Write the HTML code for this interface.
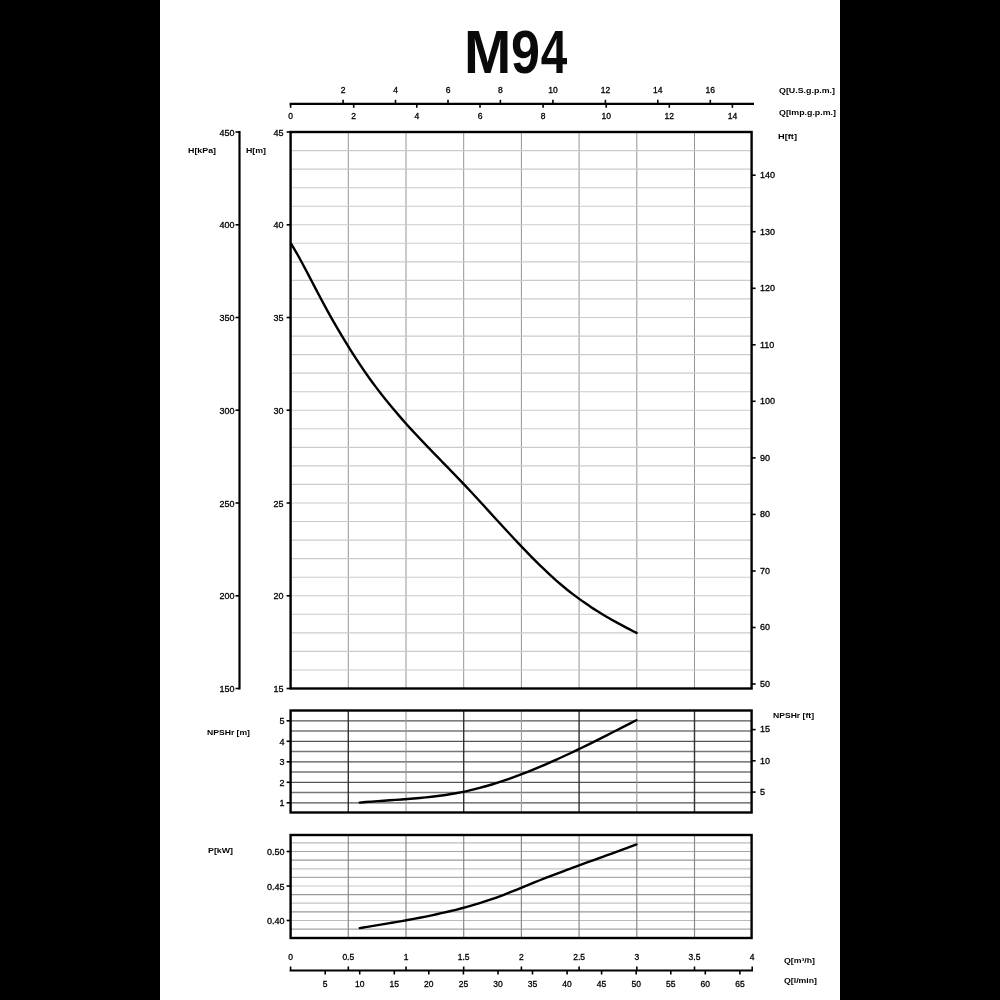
<!DOCTYPE html>
<html><head><meta charset="utf-8"><style>
html,body{margin:0;padding:0;background:#fff;}
body{width:1000px;height:1000px;position:relative;overflow:hidden;font-family:"Liberation Sans", sans-serif;}
.bar{position:absolute;top:0;width:160px;height:1000px;background:#000;}
svg{position:absolute;left:0;top:0;filter:blur(0.4px);}
</style></head><body>
<div class="bar" style="left:0"></div>
<div class="bar" style="left:840px"></div>
<svg width="1000" height="1000" viewBox="0 0 1000 1000" font-family='"Liberation Sans", sans-serif'>
<text x="0" y="0" font-size="62" font-weight="bold" fill="#0a0a0a" transform="translate(464.0,73.4) scale(0.915,1)">M</text>
<text x="0" y="0" font-size="62" font-weight="bold" fill="#0a0a0a" transform="translate(510.9,73.4) scale(0.8415,1)">9</text>
<text x="0" y="0" font-size="62" font-weight="bold" fill="#0a0a0a" transform="translate(540.7,73.4) scale(0.769,1)">4</text>
<line x1="289.6" y1="103.8" x2="754.0" y2="103.8" stroke="#000" stroke-width="2.2" />
<line x1="343.1" y1="99.8" x2="343.1" y2="103.8" stroke="#000" stroke-width="1.6" />
<text x="343.1" y="93.3" font-size="8.5" text-anchor="middle" font-weight="normal" fill="#000" stroke="#000" stroke-width="0.3" >2</text>
<line x1="395.5" y1="99.8" x2="395.5" y2="103.8" stroke="#000" stroke-width="1.6" />
<text x="395.5" y="93.3" font-size="8.5" text-anchor="middle" font-weight="normal" fill="#000" stroke="#000" stroke-width="0.3" >4</text>
<line x1="448.0" y1="99.8" x2="448.0" y2="103.8" stroke="#000" stroke-width="1.6" />
<text x="448.0" y="93.3" font-size="8.5" text-anchor="middle" font-weight="normal" fill="#000" stroke="#000" stroke-width="0.3" >6</text>
<line x1="500.4" y1="99.8" x2="500.4" y2="103.8" stroke="#000" stroke-width="1.6" />
<text x="500.4" y="93.3" font-size="8.5" text-anchor="middle" font-weight="normal" fill="#000" stroke="#000" stroke-width="0.3" >8</text>
<line x1="552.9" y1="99.8" x2="552.9" y2="103.8" stroke="#000" stroke-width="1.6" />
<text x="552.9" y="93.3" font-size="8.5" text-anchor="middle" font-weight="normal" fill="#000" stroke="#000" stroke-width="0.3" >10</text>
<line x1="605.4" y1="99.8" x2="605.4" y2="103.8" stroke="#000" stroke-width="1.6" />
<text x="605.4" y="93.3" font-size="8.5" text-anchor="middle" font-weight="normal" fill="#000" stroke="#000" stroke-width="0.3" >12</text>
<line x1="657.8" y1="99.8" x2="657.8" y2="103.8" stroke="#000" stroke-width="1.6" />
<text x="657.8" y="93.3" font-size="8.5" text-anchor="middle" font-weight="normal" fill="#000" stroke="#000" stroke-width="0.3" >14</text>
<line x1="710.3" y1="99.8" x2="710.3" y2="103.8" stroke="#000" stroke-width="1.6" />
<text x="710.3" y="93.3" font-size="8.5" text-anchor="middle" font-weight="normal" fill="#000" stroke="#000" stroke-width="0.3" >16</text>
<line x1="290.6" y1="103.8" x2="290.6" y2="107.8" stroke="#000" stroke-width="1.6" />
<text x="290.6" y="118.7" font-size="8.5" text-anchor="middle" font-weight="normal" fill="#000" stroke="#000" stroke-width="0.3" >0</text>
<line x1="353.7" y1="103.8" x2="353.7" y2="107.8" stroke="#000" stroke-width="1.6" />
<text x="353.7" y="118.7" font-size="8.5" text-anchor="middle" font-weight="normal" fill="#000" stroke="#000" stroke-width="0.3" >2</text>
<line x1="416.8" y1="103.8" x2="416.8" y2="107.8" stroke="#000" stroke-width="1.6" />
<text x="416.8" y="118.7" font-size="8.5" text-anchor="middle" font-weight="normal" fill="#000" stroke="#000" stroke-width="0.3" >4</text>
<line x1="480.0" y1="103.8" x2="480.0" y2="107.8" stroke="#000" stroke-width="1.6" />
<text x="480.0" y="118.7" font-size="8.5" text-anchor="middle" font-weight="normal" fill="#000" stroke="#000" stroke-width="0.3" >6</text>
<line x1="543.1" y1="103.8" x2="543.1" y2="107.8" stroke="#000" stroke-width="1.6" />
<text x="543.1" y="118.7" font-size="8.5" text-anchor="middle" font-weight="normal" fill="#000" stroke="#000" stroke-width="0.3" >8</text>
<line x1="606.2" y1="103.8" x2="606.2" y2="107.8" stroke="#000" stroke-width="1.6" />
<text x="606.2" y="118.7" font-size="8.5" text-anchor="middle" font-weight="normal" fill="#000" stroke="#000" stroke-width="0.3" >10</text>
<line x1="669.3" y1="103.8" x2="669.3" y2="107.8" stroke="#000" stroke-width="1.6" />
<text x="669.3" y="118.7" font-size="8.5" text-anchor="middle" font-weight="normal" fill="#000" stroke="#000" stroke-width="0.3" >12</text>
<line x1="732.4" y1="103.8" x2="732.4" y2="107.8" stroke="#000" stroke-width="1.6" />
<text x="732.4" y="118.7" font-size="8.5" text-anchor="middle" font-weight="normal" fill="#000" stroke="#000" stroke-width="0.3" >14</text>
<text x="779.0" y="93.0" font-size="7.5" text-anchor="start" font-weight="bold" fill="#000" textLength="56" lengthAdjust="spacingAndGlyphs">Q[U.S.g.p.m.]</text>
<text x="779.0" y="114.6" font-size="7.5" text-anchor="start" font-weight="bold" fill="#000" textLength="57" lengthAdjust="spacingAndGlyphs">Q[Imp.g.p.m.]</text>
<text x="778.0" y="138.7" font-size="7.5" text-anchor="start" font-weight="bold" fill="#000" textLength="19" lengthAdjust="spacingAndGlyphs">H[ft]</text>
<line x1="348.3" y1="132.0" x2="348.3" y2="688.5" stroke="#949494" stroke-width="1.0" />
<line x1="406.0" y1="132.0" x2="406.0" y2="688.5" stroke="#949494" stroke-width="1.0" />
<line x1="463.7" y1="132.0" x2="463.7" y2="688.5" stroke="#949494" stroke-width="1.0" />
<line x1="521.4" y1="132.0" x2="521.4" y2="688.5" stroke="#949494" stroke-width="1.0" />
<line x1="579.1" y1="132.0" x2="579.1" y2="688.5" stroke="#949494" stroke-width="1.0" />
<line x1="636.8" y1="132.0" x2="636.8" y2="688.5" stroke="#949494" stroke-width="1.0" />
<line x1="694.5" y1="132.0" x2="694.5" y2="688.5" stroke="#949494" stroke-width="1.0" />
<line x1="290.6" y1="670.0" x2="751.6" y2="670.0" stroke="#cbcbcb" stroke-width="1.1" />
<line x1="290.6" y1="651.4" x2="751.6" y2="651.4" stroke="#cbcbcb" stroke-width="1.1" />
<line x1="290.6" y1="632.9" x2="751.6" y2="632.9" stroke="#cbcbcb" stroke-width="1.1" />
<line x1="290.6" y1="614.3" x2="751.6" y2="614.3" stroke="#cbcbcb" stroke-width="1.1" />
<line x1="290.6" y1="595.8" x2="751.6" y2="595.8" stroke="#cbcbcb" stroke-width="1.1" />
<line x1="290.6" y1="577.2" x2="751.6" y2="577.2" stroke="#cbcbcb" stroke-width="1.1" />
<line x1="290.6" y1="558.6" x2="751.6" y2="558.6" stroke="#cbcbcb" stroke-width="1.1" />
<line x1="290.6" y1="540.1" x2="751.6" y2="540.1" stroke="#cbcbcb" stroke-width="1.1" />
<line x1="290.6" y1="521.5" x2="751.6" y2="521.5" stroke="#cbcbcb" stroke-width="1.1" />
<line x1="290.6" y1="503.0" x2="751.6" y2="503.0" stroke="#cbcbcb" stroke-width="1.1" />
<line x1="290.6" y1="484.4" x2="751.6" y2="484.4" stroke="#cbcbcb" stroke-width="1.1" />
<line x1="290.6" y1="465.9" x2="751.6" y2="465.9" stroke="#cbcbcb" stroke-width="1.1" />
<line x1="290.6" y1="447.4" x2="751.6" y2="447.4" stroke="#cbcbcb" stroke-width="1.1" />
<line x1="290.6" y1="428.8" x2="751.6" y2="428.8" stroke="#cbcbcb" stroke-width="1.1" />
<line x1="290.6" y1="410.2" x2="751.6" y2="410.2" stroke="#cbcbcb" stroke-width="1.1" />
<line x1="290.6" y1="391.7" x2="751.6" y2="391.7" stroke="#cbcbcb" stroke-width="1.1" />
<line x1="290.6" y1="373.1" x2="751.6" y2="373.1" stroke="#cbcbcb" stroke-width="1.1" />
<line x1="290.6" y1="354.6" x2="751.6" y2="354.6" stroke="#cbcbcb" stroke-width="1.1" />
<line x1="290.6" y1="336.1" x2="751.6" y2="336.1" stroke="#cbcbcb" stroke-width="1.1" />
<line x1="290.6" y1="317.5" x2="751.6" y2="317.5" stroke="#cbcbcb" stroke-width="1.1" />
<line x1="290.6" y1="298.9" x2="751.6" y2="298.9" stroke="#cbcbcb" stroke-width="1.1" />
<line x1="290.6" y1="280.4" x2="751.6" y2="280.4" stroke="#cbcbcb" stroke-width="1.1" />
<line x1="290.6" y1="261.9" x2="751.6" y2="261.9" stroke="#cbcbcb" stroke-width="1.1" />
<line x1="290.6" y1="243.3" x2="751.6" y2="243.3" stroke="#cbcbcb" stroke-width="1.1" />
<line x1="290.6" y1="224.8" x2="751.6" y2="224.8" stroke="#cbcbcb" stroke-width="1.1" />
<line x1="290.6" y1="206.2" x2="751.6" y2="206.2" stroke="#cbcbcb" stroke-width="1.1" />
<line x1="290.6" y1="187.7" x2="751.6" y2="187.7" stroke="#cbcbcb" stroke-width="1.1" />
<line x1="290.6" y1="169.1" x2="751.6" y2="169.1" stroke="#cbcbcb" stroke-width="1.1" />
<line x1="290.6" y1="150.6" x2="751.6" y2="150.6" stroke="#cbcbcb" stroke-width="1.1" />
<rect x="290.6" y="132.0" width="461.0" height="556.5" fill="none" stroke="#000" stroke-width="2.4"/>
<line x1="286.6" y1="688.5" x2="290.6" y2="688.5" stroke="#000" stroke-width="1.6" />
<text x="283.6" y="692.0" font-size="9" text-anchor="end" font-weight="normal" fill="#000" stroke="#000" stroke-width="0.3" >15</text>
<line x1="286.6" y1="595.8" x2="290.6" y2="595.8" stroke="#000" stroke-width="1.6" />
<text x="283.6" y="599.2" font-size="9" text-anchor="end" font-weight="normal" fill="#000" stroke="#000" stroke-width="0.3" >20</text>
<line x1="286.6" y1="503.0" x2="290.6" y2="503.0" stroke="#000" stroke-width="1.6" />
<text x="283.6" y="506.5" font-size="9" text-anchor="end" font-weight="normal" fill="#000" stroke="#000" stroke-width="0.3" >25</text>
<line x1="286.6" y1="410.2" x2="290.6" y2="410.2" stroke="#000" stroke-width="1.6" />
<text x="283.6" y="413.8" font-size="9" text-anchor="end" font-weight="normal" fill="#000" stroke="#000" stroke-width="0.3" >30</text>
<line x1="286.6" y1="317.5" x2="290.6" y2="317.5" stroke="#000" stroke-width="1.6" />
<text x="283.6" y="321.0" font-size="9" text-anchor="end" font-weight="normal" fill="#000" stroke="#000" stroke-width="0.3" >35</text>
<line x1="286.6" y1="224.8" x2="290.6" y2="224.8" stroke="#000" stroke-width="1.6" />
<text x="283.6" y="228.2" font-size="9" text-anchor="end" font-weight="normal" fill="#000" stroke="#000" stroke-width="0.3" >40</text>
<line x1="286.6" y1="132.0" x2="290.6" y2="132.0" stroke="#000" stroke-width="1.6" />
<text x="283.6" y="135.5" font-size="9" text-anchor="end" font-weight="normal" fill="#000" stroke="#000" stroke-width="0.3" >45</text>
<line x1="239.5" y1="131.0" x2="239.5" y2="689.5" stroke="#000" stroke-width="2.2" />
<line x1="235.5" y1="688.5" x2="239.5" y2="688.5" stroke="#000" stroke-width="1.6" />
<text x="234.5" y="692.0" font-size="9" text-anchor="end" font-weight="normal" fill="#000" stroke="#000" stroke-width="0.3" >150</text>
<line x1="235.5" y1="595.8" x2="239.5" y2="595.8" stroke="#000" stroke-width="1.6" />
<text x="234.5" y="599.2" font-size="9" text-anchor="end" font-weight="normal" fill="#000" stroke="#000" stroke-width="0.3" >200</text>
<line x1="235.5" y1="503.0" x2="239.5" y2="503.0" stroke="#000" stroke-width="1.6" />
<text x="234.5" y="506.5" font-size="9" text-anchor="end" font-weight="normal" fill="#000" stroke="#000" stroke-width="0.3" >250</text>
<line x1="235.5" y1="410.2" x2="239.5" y2="410.2" stroke="#000" stroke-width="1.6" />
<text x="234.5" y="413.8" font-size="9" text-anchor="end" font-weight="normal" fill="#000" stroke="#000" stroke-width="0.3" >300</text>
<line x1="235.5" y1="317.5" x2="239.5" y2="317.5" stroke="#000" stroke-width="1.6" />
<text x="234.5" y="321.0" font-size="9" text-anchor="end" font-weight="normal" fill="#000" stroke="#000" stroke-width="0.3" >350</text>
<line x1="235.5" y1="224.8" x2="239.5" y2="224.8" stroke="#000" stroke-width="1.6" />
<text x="234.5" y="228.2" font-size="9" text-anchor="end" font-weight="normal" fill="#000" stroke="#000" stroke-width="0.3" >400</text>
<line x1="235.5" y1="132.0" x2="239.5" y2="132.0" stroke="#000" stroke-width="1.6" />
<text x="234.5" y="135.5" font-size="9" text-anchor="end" font-weight="normal" fill="#000" stroke="#000" stroke-width="0.3" >450</text>
<text x="188.0" y="153.0" font-size="8" text-anchor="start" font-weight="bold" fill="#000" textLength="28" lengthAdjust="spacingAndGlyphs">H[kPa]</text>
<text x="246.0" y="153.0" font-size="8" text-anchor="start" font-weight="bold" fill="#000" textLength="20" lengthAdjust="spacingAndGlyphs">H[m]</text>
<line x1="751.6" y1="684.0" x2="755.6" y2="684.0" stroke="#000" stroke-width="1.6" />
<text x="759.9" y="686.8" font-size="9" text-anchor="start" font-weight="normal" fill="#000" stroke="#000" stroke-width="0.3" >50</text>
<line x1="751.6" y1="627.5" x2="755.6" y2="627.5" stroke="#000" stroke-width="1.6" />
<text x="759.9" y="630.3" font-size="9" text-anchor="start" font-weight="normal" fill="#000" stroke="#000" stroke-width="0.3" >60</text>
<line x1="751.6" y1="571.0" x2="755.6" y2="571.0" stroke="#000" stroke-width="1.6" />
<text x="759.9" y="573.8" font-size="9" text-anchor="start" font-weight="normal" fill="#000" stroke="#000" stroke-width="0.3" >70</text>
<line x1="751.6" y1="514.4" x2="755.6" y2="514.4" stroke="#000" stroke-width="1.6" />
<text x="759.9" y="517.2" font-size="9" text-anchor="start" font-weight="normal" fill="#000" stroke="#000" stroke-width="0.3" >80</text>
<line x1="751.6" y1="457.9" x2="755.6" y2="457.9" stroke="#000" stroke-width="1.6" />
<text x="759.9" y="460.7" font-size="9" text-anchor="start" font-weight="normal" fill="#000" stroke="#000" stroke-width="0.3" >90</text>
<line x1="751.6" y1="401.3" x2="755.6" y2="401.3" stroke="#000" stroke-width="1.6" />
<text x="759.9" y="404.1" font-size="9" text-anchor="start" font-weight="normal" fill="#000" stroke="#000" stroke-width="0.3" >100</text>
<line x1="751.6" y1="344.8" x2="755.6" y2="344.8" stroke="#000" stroke-width="1.6" />
<text x="759.9" y="347.6" font-size="9" text-anchor="start" font-weight="normal" fill="#000" stroke="#000" stroke-width="0.3" >110</text>
<line x1="751.6" y1="288.3" x2="755.6" y2="288.3" stroke="#000" stroke-width="1.6" />
<text x="759.9" y="291.1" font-size="9" text-anchor="start" font-weight="normal" fill="#000" stroke="#000" stroke-width="0.3" >120</text>
<line x1="751.6" y1="231.7" x2="755.6" y2="231.7" stroke="#000" stroke-width="1.6" />
<text x="759.9" y="234.5" font-size="9" text-anchor="start" font-weight="normal" fill="#000" stroke="#000" stroke-width="0.3" >130</text>
<line x1="751.6" y1="175.2" x2="755.6" y2="175.2" stroke="#000" stroke-width="1.6" />
<text x="759.9" y="178.0" font-size="9" text-anchor="start" font-weight="normal" fill="#000" stroke="#000" stroke-width="0.3" >140</text>
<path d="M291.20,243.77 C292.20,245.48 295.20,250.49 297.20,254.02 C299.20,257.56 301.20,261.26 303.20,264.98 C305.20,268.70 307.20,272.53 309.20,276.35 C311.20,280.16 313.20,284.04 315.20,287.86 C317.20,291.68 319.20,295.50 321.20,299.25 C323.20,302.99 325.20,306.68 327.20,310.32 C329.20,313.95 331.20,317.53 333.20,321.05 C335.20,324.57 337.20,328.03 339.20,331.44 C341.20,334.84 343.20,338.19 345.20,341.47 C347.20,344.76 349.20,347.98 351.20,351.15 C353.20,354.31 355.20,357.41 357.20,360.46 C359.20,363.50 361.20,366.48 363.20,369.39 C365.20,372.31 367.20,375.16 369.20,377.95 C371.20,380.74 373.20,383.47 375.20,386.15 C377.20,388.82 379.20,391.44 381.20,394.01 C383.20,396.58 385.20,399.09 387.20,401.56 C389.20,404.03 391.20,406.45 393.20,408.84 C395.20,411.22 397.20,413.56 399.20,415.87 C401.20,418.18 403.20,420.45 405.20,422.69 C407.20,424.93 409.20,427.14 411.20,429.32 C413.20,431.51 415.20,433.66 417.20,435.80 C419.20,437.94 421.20,440.05 423.20,442.15 C425.20,444.25 427.20,446.33 429.20,448.41 C431.20,450.48 433.20,452.54 435.20,454.60 C437.20,456.66 439.20,458.70 441.20,460.76 C443.20,462.81 445.20,464.85 447.20,466.91 C449.20,468.96 451.20,471.02 453.20,473.09 C455.20,475.15 457.20,477.23 459.20,479.32 C461.20,481.41 463.20,483.51 465.20,485.64 C467.20,487.76 469.20,489.90 471.20,492.05 C473.20,494.19 475.20,496.36 477.20,498.53 C479.20,500.70 481.20,502.88 483.20,505.06 C485.20,507.25 487.20,509.44 489.20,511.63 C491.20,513.82 493.20,516.01 495.20,518.20 C497.20,520.39 499.20,522.57 501.20,524.75 C503.20,526.93 505.20,529.11 507.20,531.28 C509.20,533.44 511.20,535.60 513.20,537.74 C515.20,539.88 517.20,542.01 519.20,544.12 C521.20,546.23 523.20,548.33 525.20,550.40 C527.20,552.48 529.20,554.53 531.20,556.56 C533.20,558.59 535.20,560.60 537.20,562.58 C539.20,564.55 541.20,566.50 543.20,568.42 C545.20,570.34 547.20,572.23 549.20,574.08 C551.20,575.93 553.20,577.75 555.20,579.53 C557.20,581.31 559.20,583.05 561.20,584.74 C563.20,586.44 565.20,588.10 567.20,589.71 C569.20,591.32 571.20,592.88 573.20,594.41 C575.20,595.94 577.20,597.42 579.20,598.87 C581.20,600.32 583.20,601.73 585.20,603.11 C587.20,604.49 589.20,605.83 591.20,607.14 C593.20,608.45 595.20,609.73 597.20,610.99 C599.20,612.24 601.20,613.46 603.20,614.67 C605.20,615.87 607.20,617.04 609.20,618.19 C611.20,619.35 613.20,620.48 615.20,621.59 C617.20,622.71 619.20,623.80 621.20,624.88 C623.20,625.96 625.20,627.02 627.20,628.08 C629.20,629.13 631.63,630.39 633.20,631.20 C634.77,632.01 636.03,632.65 636.60,632.94" fill="none" stroke="#000" stroke-width="2.4" stroke-linecap="round"/>
<line x1="290.6" y1="802.8" x2="751.6" y2="802.8" stroke="#555" stroke-width="1.3" />
<line x1="290.6" y1="792.5" x2="751.6" y2="792.5" stroke="#777" stroke-width="1.3" />
<line x1="290.6" y1="782.3" x2="751.6" y2="782.3" stroke="#555" stroke-width="1.3" />
<line x1="290.6" y1="772.0" x2="751.6" y2="772.0" stroke="#777" stroke-width="1.3" />
<line x1="290.6" y1="761.8" x2="751.6" y2="761.8" stroke="#555" stroke-width="1.3" />
<line x1="290.6" y1="751.5" x2="751.6" y2="751.5" stroke="#777" stroke-width="1.3" />
<line x1="290.6" y1="741.3" x2="751.6" y2="741.3" stroke="#555" stroke-width="1.3" />
<line x1="290.6" y1="731.0" x2="751.6" y2="731.0" stroke="#777" stroke-width="1.3" />
<line x1="290.6" y1="720.8" x2="751.6" y2="720.8" stroke="#555" stroke-width="1.3" />
<line x1="348.3" y1="710.5" x2="348.3" y2="812.5" stroke="#333" stroke-width="1.4" />
<line x1="406.0" y1="710.5" x2="406.0" y2="812.5" stroke="#999" stroke-width="1.1" />
<line x1="463.7" y1="710.5" x2="463.7" y2="812.5" stroke="#333" stroke-width="1.4" />
<line x1="521.4" y1="710.5" x2="521.4" y2="812.5" stroke="#999" stroke-width="1.1" />
<line x1="579.1" y1="710.5" x2="579.1" y2="812.5" stroke="#333" stroke-width="1.4" />
<line x1="636.8" y1="710.5" x2="636.8" y2="812.5" stroke="#999" stroke-width="1.1" />
<line x1="694.5" y1="710.5" x2="694.5" y2="812.5" stroke="#333" stroke-width="1.4" />
<rect x="290.6" y="710.5" width="461.0" height="102.0" fill="none" stroke="#000" stroke-width="2.4"/>
<line x1="286.6" y1="802.8" x2="290.6" y2="802.8" stroke="#000" stroke-width="1.6" />
<text x="284.6" y="806.3" font-size="9" text-anchor="end" font-weight="normal" fill="#000" stroke="#000" stroke-width="0.3" >1</text>
<line x1="286.6" y1="782.3" x2="290.6" y2="782.3" stroke="#000" stroke-width="1.6" />
<text x="284.6" y="785.8" font-size="9" text-anchor="end" font-weight="normal" fill="#000" stroke="#000" stroke-width="0.3" >2</text>
<line x1="286.6" y1="761.8" x2="290.6" y2="761.8" stroke="#000" stroke-width="1.6" />
<text x="284.6" y="765.3" font-size="9" text-anchor="end" font-weight="normal" fill="#000" stroke="#000" stroke-width="0.3" >3</text>
<line x1="286.6" y1="741.3" x2="290.6" y2="741.3" stroke="#000" stroke-width="1.6" />
<text x="284.6" y="744.8" font-size="9" text-anchor="end" font-weight="normal" fill="#000" stroke="#000" stroke-width="0.3" >4</text>
<line x1="286.6" y1="720.8" x2="290.6" y2="720.8" stroke="#000" stroke-width="1.6" />
<text x="284.6" y="724.3" font-size="9" text-anchor="end" font-weight="normal" fill="#000" stroke="#000" stroke-width="0.3" >5</text>
<line x1="751.6" y1="792.1" x2="755.6" y2="792.1" stroke="#000" stroke-width="1.6" />
<text x="759.9" y="794.9" font-size="9" text-anchor="start" font-weight="normal" fill="#000" stroke="#000" stroke-width="0.3" >5</text>
<line x1="751.6" y1="760.8" x2="755.6" y2="760.8" stroke="#000" stroke-width="1.6" />
<text x="759.9" y="763.6" font-size="9" text-anchor="start" font-weight="normal" fill="#000" stroke="#000" stroke-width="0.3" >10</text>
<line x1="751.6" y1="729.6" x2="755.6" y2="729.6" stroke="#000" stroke-width="1.6" />
<text x="759.9" y="732.4" font-size="9" text-anchor="start" font-weight="normal" fill="#000" stroke="#000" stroke-width="0.3" >15</text>
<text x="207.0" y="735.0" font-size="7.5" text-anchor="start" font-weight="bold" fill="#000" textLength="43" lengthAdjust="spacingAndGlyphs">NPSHr [m]</text>
<text x="773.0" y="717.6" font-size="7.5" text-anchor="start" font-weight="bold" fill="#000" textLength="41" lengthAdjust="spacingAndGlyphs">NPSHr [ft]</text>
<path d="M359.75,802.58 C360.75,802.49 363.75,802.23 365.75,802.07 C367.75,801.90 369.75,801.75 371.75,801.60 C373.75,801.44 375.75,801.30 377.75,801.16 C379.75,801.01 381.75,800.87 383.75,800.73 C385.75,800.59 387.75,800.46 389.75,800.32 C391.75,800.18 393.75,800.04 395.75,799.90 C397.75,799.76 399.75,799.62 401.75,799.47 C403.75,799.33 405.75,799.18 407.75,799.02 C409.75,798.86 411.75,798.70 413.75,798.53 C415.75,798.36 417.75,798.19 419.75,798.00 C421.75,797.81 423.75,797.62 425.75,797.41 C427.75,797.20 429.75,796.99 431.75,796.76 C433.75,796.52 435.75,796.28 437.75,796.02 C439.75,795.76 441.75,795.49 443.75,795.20 C445.75,794.91 447.75,794.61 449.75,794.28 C451.75,793.96 453.75,793.62 455.75,793.26 C457.75,792.89 459.75,792.51 461.75,792.11 C463.75,791.71 465.75,791.28 467.75,790.83 C469.75,790.39 471.75,789.92 473.75,789.43 C475.75,788.94 477.75,788.43 479.75,787.90 C481.75,787.37 483.75,786.82 485.75,786.25 C487.75,785.68 489.75,785.09 491.75,784.49 C493.75,783.88 495.75,783.26 497.75,782.62 C499.75,781.98 501.75,781.32 503.75,780.64 C505.75,779.97 507.75,779.28 509.75,778.57 C511.75,777.86 513.75,777.14 515.75,776.41 C517.75,775.67 519.75,774.92 521.75,774.15 C523.75,773.39 525.75,772.61 527.75,771.81 C529.75,771.02 531.75,770.21 533.75,769.40 C535.75,768.58 537.75,767.74 539.75,766.90 C541.75,766.06 543.75,765.20 545.75,764.34 C547.75,763.47 549.75,762.60 551.75,761.71 C553.75,760.82 555.75,759.92 557.75,759.02 C559.75,758.11 561.75,757.20 563.75,756.27 C565.75,755.35 567.75,754.41 569.75,753.47 C571.75,752.53 573.75,751.58 575.75,750.62 C577.75,749.67 579.75,748.70 581.75,747.73 C583.75,746.76 585.75,745.78 587.75,744.80 C589.75,743.82 591.75,742.83 593.75,741.84 C595.75,740.84 597.75,739.85 599.75,738.84 C601.75,737.84 603.75,736.83 605.75,735.82 C607.75,734.81 609.75,733.80 611.75,732.78 C613.75,731.77 615.75,730.75 617.75,729.73 C619.75,728.71 621.75,727.69 623.75,726.66 C625.75,725.64 627.75,724.61 629.75,723.59 C631.75,722.56 634.64,721.08 635.75,720.51 C636.86,719.95 636.29,720.24 636.40,720.18" fill="none" stroke="#000" stroke-width="2.4" stroke-linecap="round"/>
<line x1="290.6" y1="842.9" x2="751.6" y2="842.9" stroke="#bbb" stroke-width="1.2" />
<line x1="290.6" y1="851.5" x2="751.6" y2="851.5" stroke="#a5a5a5" stroke-width="1.2" />
<line x1="290.6" y1="860.1" x2="751.6" y2="860.1" stroke="#999" stroke-width="1.2" />
<line x1="290.6" y1="868.8" x2="751.6" y2="868.8" stroke="#c5c5c5" stroke-width="1.2" />
<line x1="290.6" y1="877.4" x2="751.6" y2="877.4" stroke="#aaa" stroke-width="1.2" />
<line x1="290.6" y1="886.0" x2="751.6" y2="886.0" stroke="#c5c5c5" stroke-width="1.2" />
<line x1="290.6" y1="894.6" x2="751.6" y2="894.6" stroke="#999" stroke-width="1.2" />
<line x1="290.6" y1="903.2" x2="751.6" y2="903.2" stroke="#c5c5c5" stroke-width="1.2" />
<line x1="290.6" y1="911.9" x2="751.6" y2="911.9" stroke="#999" stroke-width="1.2" />
<line x1="290.6" y1="920.5" x2="751.6" y2="920.5" stroke="#bbb" stroke-width="1.2" />
<line x1="290.6" y1="929.1" x2="751.6" y2="929.1" stroke="#a5a5a5" stroke-width="1.2" />
<line x1="348.3" y1="835.0" x2="348.3" y2="938.0" stroke="#8a8a8a" stroke-width="1.2" />
<line x1="406.0" y1="835.0" x2="406.0" y2="938.0" stroke="#8a8a8a" stroke-width="1.2" />
<line x1="463.7" y1="835.0" x2="463.7" y2="938.0" stroke="#8a8a8a" stroke-width="1.2" />
<line x1="521.4" y1="835.0" x2="521.4" y2="938.0" stroke="#8a8a8a" stroke-width="1.2" />
<line x1="579.1" y1="835.0" x2="579.1" y2="938.0" stroke="#8a8a8a" stroke-width="1.2" />
<line x1="636.8" y1="835.0" x2="636.8" y2="938.0" stroke="#8a8a8a" stroke-width="1.2" />
<line x1="694.5" y1="835.0" x2="694.5" y2="938.0" stroke="#8a8a8a" stroke-width="1.2" />
<rect x="290.6" y="835.0" width="461.0" height="103.0" fill="none" stroke="#000" stroke-width="2.4"/>
<line x1="286.6" y1="851.5" x2="290.6" y2="851.5" stroke="#000" stroke-width="1.6" />
<text x="284.6" y="855.0" font-size="9" text-anchor="end" font-weight="normal" fill="#000" stroke="#000" stroke-width="0.3" >0.50</text>
<line x1="286.6" y1="886.0" x2="290.6" y2="886.0" stroke="#000" stroke-width="1.6" />
<text x="284.6" y="889.5" font-size="9" text-anchor="end" font-weight="normal" fill="#000" stroke="#000" stroke-width="0.3" >0.45</text>
<line x1="286.6" y1="920.5" x2="290.6" y2="920.5" stroke="#000" stroke-width="1.6" />
<text x="284.6" y="924.0" font-size="9" text-anchor="end" font-weight="normal" fill="#000" stroke="#000" stroke-width="0.3" >0.40</text>
<text x="208.0" y="853.0" font-size="7.5" text-anchor="start" font-weight="bold" fill="#000" textLength="25" lengthAdjust="spacingAndGlyphs">P[kW]</text>
<path d="M359.75,928.06 C360.75,927.90 363.75,927.41 365.75,927.08 C367.75,926.76 369.75,926.43 371.75,926.11 C373.75,925.78 375.75,925.46 377.75,925.13 C379.75,924.80 381.75,924.47 383.75,924.14 C385.75,923.81 387.75,923.48 389.75,923.14 C391.75,922.80 393.75,922.47 395.75,922.12 C397.75,921.78 399.75,921.43 401.75,921.08 C403.75,920.73 405.75,920.37 407.75,920.01 C409.75,919.65 411.75,919.28 413.75,918.90 C415.75,918.53 417.75,918.15 419.75,917.76 C421.75,917.37 423.75,916.98 425.75,916.57 C427.75,916.17 429.75,915.76 431.75,915.34 C433.75,914.91 435.75,914.48 437.75,914.04 C439.75,913.60 441.75,913.16 443.75,912.69 C445.75,912.23 447.75,911.76 449.75,911.28 C451.75,910.80 453.75,910.30 455.75,909.79 C457.75,909.29 459.75,908.77 461.75,908.24 C463.75,907.70 465.75,907.16 467.75,906.60 C469.75,906.04 471.75,905.46 473.75,904.87 C475.75,904.28 477.75,903.68 479.75,903.06 C481.75,902.44 483.75,901.80 485.75,901.15 C487.75,900.50 489.75,899.83 491.75,899.14 C493.75,898.45 495.75,897.75 497.75,897.02 C499.75,896.30 501.75,895.56 503.75,894.80 C505.75,894.04 507.75,893.25 509.75,892.46 C511.75,891.67 513.75,890.85 515.75,890.04 C517.75,889.22 519.75,888.39 521.75,887.57 C523.75,886.75 525.75,885.92 527.75,885.10 C529.75,884.28 531.75,883.46 533.75,882.65 C535.75,881.85 537.75,881.05 539.75,880.25 C541.75,879.46 543.75,878.68 545.75,877.90 C547.75,877.12 549.75,876.35 551.75,875.58 C553.75,874.81 555.75,874.05 557.75,873.29 C559.75,872.54 561.75,871.78 563.75,871.04 C565.75,870.29 567.75,869.55 569.75,868.80 C571.75,868.06 573.75,867.33 575.75,866.59 C577.75,865.86 579.75,865.13 581.75,864.40 C583.75,863.67 585.75,862.94 587.75,862.22 C589.75,861.49 591.75,860.77 593.75,860.04 C595.75,859.32 597.75,858.60 599.75,857.87 C601.75,857.15 603.75,856.43 605.75,855.71 C607.75,854.98 609.75,854.26 611.75,853.53 C613.75,852.81 615.75,852.08 617.75,851.35 C619.75,850.62 621.75,849.89 623.75,849.16 C625.75,848.42 627.75,847.69 629.75,846.95 C631.75,846.21 634.64,845.13 635.75,844.72 C636.86,844.30 636.29,844.51 636.40,844.47" fill="none" stroke="#000" stroke-width="2.4" stroke-linecap="round"/>
<line x1="289.6" y1="970.5" x2="753.0" y2="970.5" stroke="#000" stroke-width="2.2" />
<line x1="290.6" y1="966.5" x2="290.6" y2="970.5" stroke="#000" stroke-width="1.6" />
<text x="290.6" y="960.0" font-size="8.5" text-anchor="middle" font-weight="normal" fill="#000" stroke="#000" stroke-width="0.3" >0</text>
<line x1="348.3" y1="966.5" x2="348.3" y2="970.5" stroke="#000" stroke-width="1.6" />
<text x="348.3" y="960.0" font-size="8.5" text-anchor="middle" font-weight="normal" fill="#000" stroke="#000" stroke-width="0.3" >0.5</text>
<line x1="406.0" y1="966.5" x2="406.0" y2="970.5" stroke="#000" stroke-width="1.6" />
<text x="406.0" y="960.0" font-size="8.5" text-anchor="middle" font-weight="normal" fill="#000" stroke="#000" stroke-width="0.3" >1</text>
<line x1="463.7" y1="966.5" x2="463.7" y2="970.5" stroke="#000" stroke-width="1.6" />
<text x="463.7" y="960.0" font-size="8.5" text-anchor="middle" font-weight="normal" fill="#000" stroke="#000" stroke-width="0.3" >1.5</text>
<line x1="521.4" y1="966.5" x2="521.4" y2="970.5" stroke="#000" stroke-width="1.6" />
<text x="521.4" y="960.0" font-size="8.5" text-anchor="middle" font-weight="normal" fill="#000" stroke="#000" stroke-width="0.3" >2</text>
<line x1="579.1" y1="966.5" x2="579.1" y2="970.5" stroke="#000" stroke-width="1.6" />
<text x="579.1" y="960.0" font-size="8.5" text-anchor="middle" font-weight="normal" fill="#000" stroke="#000" stroke-width="0.3" >2.5</text>
<line x1="636.8" y1="966.5" x2="636.8" y2="970.5" stroke="#000" stroke-width="1.6" />
<text x="636.8" y="960.0" font-size="8.5" text-anchor="middle" font-weight="normal" fill="#000" stroke="#000" stroke-width="0.3" >3</text>
<line x1="694.5" y1="966.5" x2="694.5" y2="970.5" stroke="#000" stroke-width="1.6" />
<text x="694.5" y="960.0" font-size="8.5" text-anchor="middle" font-weight="normal" fill="#000" stroke="#000" stroke-width="0.3" >3.5</text>
<line x1="752.2" y1="966.5" x2="752.2" y2="970.5" stroke="#000" stroke-width="1.6" />
<text x="752.2" y="960.0" font-size="8.5" text-anchor="middle" font-weight="normal" fill="#000" stroke="#000" stroke-width="0.3" >4</text>
<line x1="325.2" y1="970.5" x2="325.2" y2="974.5" stroke="#000" stroke-width="1.6" />
<text x="325.2" y="987.0" font-size="8.5" text-anchor="middle" font-weight="normal" fill="#000" stroke="#000" stroke-width="0.3" >5</text>
<line x1="359.7" y1="970.5" x2="359.7" y2="974.5" stroke="#000" stroke-width="1.6" />
<text x="359.7" y="987.0" font-size="8.5" text-anchor="middle" font-weight="normal" fill="#000" stroke="#000" stroke-width="0.3" >10</text>
<line x1="394.3" y1="970.5" x2="394.3" y2="974.5" stroke="#000" stroke-width="1.6" />
<text x="394.3" y="987.0" font-size="8.5" text-anchor="middle" font-weight="normal" fill="#000" stroke="#000" stroke-width="0.3" >15</text>
<line x1="428.8" y1="970.5" x2="428.8" y2="974.5" stroke="#000" stroke-width="1.6" />
<text x="428.8" y="987.0" font-size="8.5" text-anchor="middle" font-weight="normal" fill="#000" stroke="#000" stroke-width="0.3" >20</text>
<line x1="463.4" y1="970.5" x2="463.4" y2="974.5" stroke="#000" stroke-width="1.6" />
<text x="463.4" y="987.0" font-size="8.5" text-anchor="middle" font-weight="normal" fill="#000" stroke="#000" stroke-width="0.3" >25</text>
<line x1="498.0" y1="970.5" x2="498.0" y2="974.5" stroke="#000" stroke-width="1.6" />
<text x="498.0" y="987.0" font-size="8.5" text-anchor="middle" font-weight="normal" fill="#000" stroke="#000" stroke-width="0.3" >30</text>
<line x1="532.5" y1="970.5" x2="532.5" y2="974.5" stroke="#000" stroke-width="1.6" />
<text x="532.5" y="987.0" font-size="8.5" text-anchor="middle" font-weight="normal" fill="#000" stroke="#000" stroke-width="0.3" >35</text>
<line x1="567.1" y1="970.5" x2="567.1" y2="974.5" stroke="#000" stroke-width="1.6" />
<text x="567.1" y="987.0" font-size="8.5" text-anchor="middle" font-weight="normal" fill="#000" stroke="#000" stroke-width="0.3" >40</text>
<line x1="601.6" y1="970.5" x2="601.6" y2="974.5" stroke="#000" stroke-width="1.6" />
<text x="601.6" y="987.0" font-size="8.5" text-anchor="middle" font-weight="normal" fill="#000" stroke="#000" stroke-width="0.3" >45</text>
<line x1="636.2" y1="970.5" x2="636.2" y2="974.5" stroke="#000" stroke-width="1.6" />
<text x="636.2" y="987.0" font-size="8.5" text-anchor="middle" font-weight="normal" fill="#000" stroke="#000" stroke-width="0.3" >50</text>
<line x1="670.8" y1="970.5" x2="670.8" y2="974.5" stroke="#000" stroke-width="1.6" />
<text x="670.8" y="987.0" font-size="8.5" text-anchor="middle" font-weight="normal" fill="#000" stroke="#000" stroke-width="0.3" >55</text>
<line x1="705.3" y1="970.5" x2="705.3" y2="974.5" stroke="#000" stroke-width="1.6" />
<text x="705.3" y="987.0" font-size="8.5" text-anchor="middle" font-weight="normal" fill="#000" stroke="#000" stroke-width="0.3" >60</text>
<line x1="739.9" y1="970.5" x2="739.9" y2="974.5" stroke="#000" stroke-width="1.6" />
<text x="739.9" y="987.0" font-size="8.5" text-anchor="middle" font-weight="normal" fill="#000" stroke="#000" stroke-width="0.3" >65</text>
<text x="784.0" y="963.0" font-size="7.5" text-anchor="start" font-weight="bold" fill="#000" textLength="31" lengthAdjust="spacingAndGlyphs">Q[m³/h]</text>
<text x="784.0" y="982.5" font-size="7.5" text-anchor="start" font-weight="bold" fill="#000" textLength="33" lengthAdjust="spacingAndGlyphs">Q[l/min]</text>
</svg>
</body></html>
